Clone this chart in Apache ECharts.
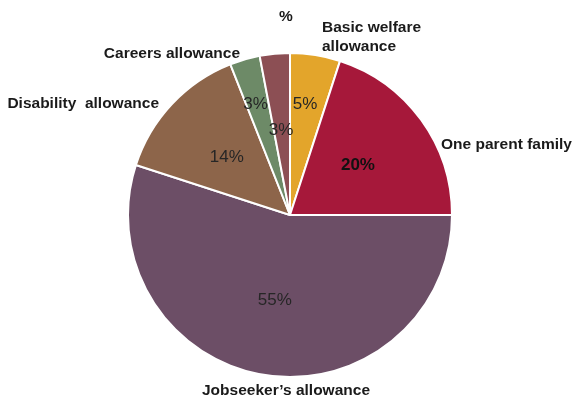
<!DOCTYPE html>
<html>
<head>
<meta charset="utf-8">
<script src="https://cdn.jsdelivr.net/npm/echarts@6/dist/echarts.min.js"></script>
<style>
  html, body { margin: 0; padding: 0; background: #ffffff; }
  #chart { width: 573px; height: 403px; }
</style>
</head>
<body>
<div id="chart"></div>
<script>
// Share of recipients by payment type (%)
const categories = [
  'Basic welfare\nallowance',
  'One parent family',
  'Jobseeker\u2019s allowance',
  'Disability  allowance',
  'Careers allowance',
  ''
];
const shares = [5, 20, 55, 14, 3, 3];
const colors = ['#E3A52B', '#A6183A', '#6C4E66', '#8D654A', '#6D8A67', '#8C4F54'];

const FONT = 'Arial, "Liberation Sans", sans-serif';
const CENTER = [290, 215];
const RADIUS = 162;

// placement of the category names around the pie
const nameLayout = [
  { x: 322, y: 37, align: 'left' },
  { x: 441, y: 145, align: 'left' },
  { x: 286, y: 391, align: 'center' },
  { x: 159, y: 104, align: 'right' },
  { x: 240, y: 54, align: 'right' }
];
// nudges for the value labels of the narrow slices
const valueNudge = [[2, -28], [0, 0], [-2, 2], [-2, 0], [-11, -30], [-1, -1]];

const pieData = categories.map((c, i) => ({
  name: c,
  value: shares[i],
  itemStyle: { color: colors[i] }
}));

const chart = echarts.init(document.getElementById('chart'), null, { renderer: 'canvas' });
chart.setOption({
  animation: false,
  backgroundColor: '#ffffff',
  title: {
    text: '%',
    left: 274,
    top: 4,
    textStyle: { fontFamily: FONT, fontSize: 15.5, fontWeight: 'bold', color: '#1a1a1a' }
  },
  series: [
    {
      type: 'pie',
      center: CENTER,
      radius: RADIUS,
      startAngle: 90,
      clockwise: true,
      avoidLabelOverlap: false,
      itemStyle: { borderColor: '#ffffff', borderWidth: 2 },
      label: {
        show: true,
        position: 'inside',
        formatter: p => p.value + '%',
        fontFamily: FONT,
        fontSize: 17,
        color: '#262626'
      },
      labelLayout: p => ({ dx: valueNudge[p.dataIndex][0], dy: valueNudge[p.dataIndex][1] }),
      labelLine: { show: false },
      emphasis: { disabled: true },
      data: pieData.map((d, i) => i === 1
        ? Object.assign({}, d, { label: { fontWeight: 'bold', color: '#111' } })
        : d)
    },
    {
      type: 'pie',
      center: CENTER,
      radius: RADIUS,
      startAngle: 90,
      clockwise: true,
      silent: true,
      avoidLabelOverlap: false,
      itemStyle: { color: 'rgba(0,0,0,0)', borderWidth: 0 },
      label: {
        show: true,
        position: 'outside',
        formatter: p => p.name,
        fontFamily: FONT,
        fontSize: 15.5,
        fontWeight: 'bold',
        lineHeight: 19,
        color: '#1a1a1a'
      },
      labelLine: { show: false },
      labelLayout: p => Object.assign({ verticalAlign: 'middle' }, nameLayout[p.dataIndex] || { x: 0, y: 0 }),
      emphasis: { disabled: true },
      data: categories.map((c, i) => ({ name: c, value: shares[i] }))
    }
  ]
});
</script>
</body>
</html>
